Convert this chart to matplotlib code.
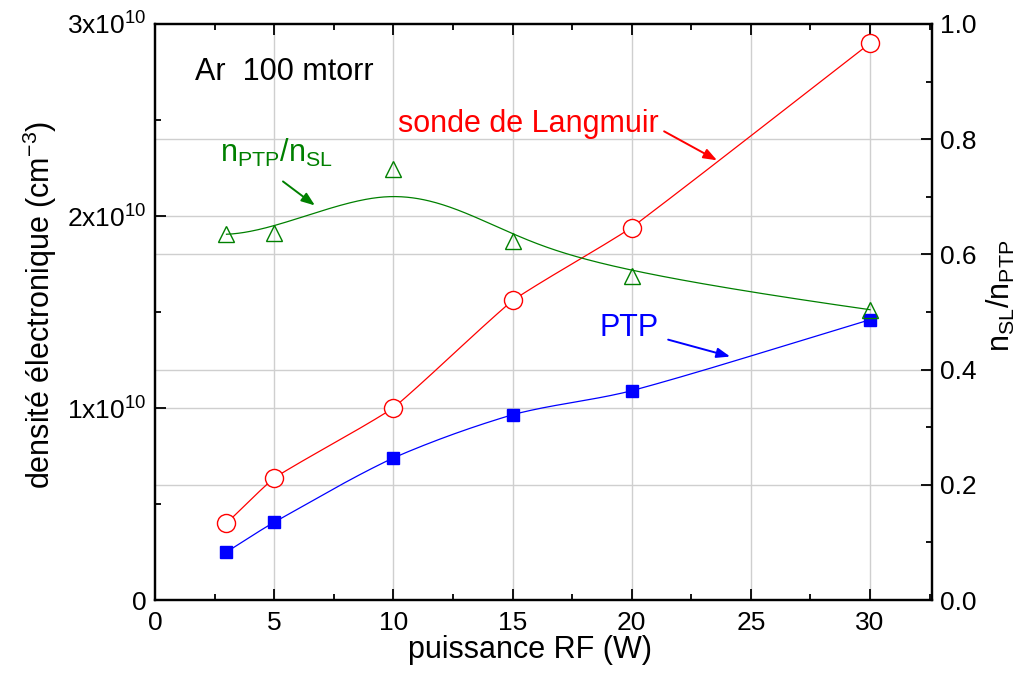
import numpy as np
import matplotlib
matplotlib.use("Agg")
import matplotlib.pyplot as plt
from matplotlib.ticker import MultipleLocator, FixedLocator

plt.rcParams['font.family'] = ['Liberation Sans', 'DejaVu Sans']
plt.rcParams['mathtext.fontset'] = 'custom'
plt.rcParams['mathtext.rm'] = 'Liberation Sans'
plt.rcParams['mathtext.it'] = 'Liberation Sans'

# ---- data ----
power = [3, 5, 10, 15, 20, 30]
n_langmuir = [0.40e10, 0.636e10, 1.00e10, 1.56e10, 1.94e10, 2.90e10]
n_ptp = [0.25e10, 0.405e10, 0.74e10, 0.965e10, 1.09e10, 1.46e10]
ratio = [0.635, 0.638, 0.748, 0.623, 0.563, 0.504]

left_ticks = [0, 1e10, 2e10, 3e10]
left_ticklabels = ['0', r'$\mathregular{1x10^{10}}$', r'$\mathregular{2x10^{10}}$', r'$\mathregular{3x10^{10}}$']
right_ticks = [0.0, 0.2, 0.4, 0.6, 0.8, 1.0]
x_ticks = [0, 5, 10, 15, 20, 25, 30]


def hermite_curve(x, y, blend, num=40):
    """Piecewise Hermite through the points; end tangents of each segment are
    a blend between the segment chord slope and the central-difference slope."""
    x = np.asarray(x, float); y = np.asarray(y, float)
    n = len(x)
    chord = np.diff(y) / np.diff(x)
    cen = np.empty(n)
    cen[0] = chord[0]; cen[-1] = chord[-1]
    for i in range(1, n - 1):
        cen[i] = (y[i + 1] - y[i - 1]) / (x[i + 1] - x[i - 1])
    X = []; Y = []
    for i in range(n - 1):
        h = x[i + 1] - x[i]
        d0 = chord[i] + blend * (cen[i] - chord[i])
        d1 = chord[i] + blend * (cen[i + 1] - chord[i])
        t = np.linspace(0, 1, num)
        h00 = 2 * t**3 - 3 * t**2 + 1
        h10 = t**3 - 2 * t**2 + t
        h01 = -2 * t**3 + 3 * t**2
        h11 = t**3 - t**2
        X.append(x[i] + t * h)
        Y.append(h00 * y[i] + h10 * h * d0 + h01 * y[i + 1] + h11 * h * d1)
    return np.concatenate(X), np.concatenate(Y)


def bspline(cx, cy, k=3, num=300):
    cx = np.asarray(cx, float); cy = np.asarray(cy, float)
    n = len(cx)
    inner = np.linspace(0, 1, n - k + 1)[1:-1]
    t = np.concatenate([np.zeros(k + 1), inner, np.ones(k + 1)])
    us = np.linspace(0, 1, num)
    us[-1] = 1 - 1e-12

    def basis(i, p, u):
        if p == 0:
            return 1.0 if t[i] <= u < t[i + 1] else 0.0
        a = 0.0
        if t[i + p] != t[i]:
            a = (u - t[i]) / (t[i + p] - t[i]) * basis(i, p - 1, u)
        b = 0.0
        if t[i + p + 1] != t[i + 1]:
            b = (t[i + p + 1] - u) / (t[i + p + 1] - t[i + 1]) * basis(i + 1, p - 1, u)
        return a + b

    X = []; Y = []
    for u in us:
        N = np.array([basis(i, k, u) for i in range(n)])
        X.append(N @ cx); Y.append(N @ cy)
    return np.array(X), np.array(Y)


fig = plt.figure(figsize=(10.25, 6.76), dpi=100)
ax = fig.add_axes([0.1512, 0.1124, 0.7581, 0.8521])
ax2 = ax.twinx()

YMAX_L = 3e10
YMAX_R = 1.0
XMAX = 32.6

# grid
grid_c = '#cfcfcf'
for xv in x_ticks[1:]:
    ax.axvline(xv, color=grid_c, lw=1.0, zorder=0)
for yv in left_ticks[1:-1]:
    ax.axhline(yv, color=grid_c, lw=1.0, zorder=0)
for rv in right_ticks[1:-1]:
    ax.axhline(rv * YMAX_L / YMAX_R, color=grid_c, lw=1.0, zorder=0)

rx, ry = hermite_curve(power, n_langmuir, 0.3)
ax.plot(rx, ry, color='red', lw=0.9, zorder=2)
ax.plot(power, n_langmuir, 'o', ms=13, mfc='white', mec='red', mew=1.0, zorder=3)
px, py = hermite_curve(power, n_ptp, 0.8)
ax.plot(px, py, color='blue', lw=0.9, zorder=2)
ax.plot(power, n_ptp, 's', ms=9, color='blue', zorder=3)

bx, by = bspline(power, ratio)
ax2.plot(bx, by, color='green', lw=0.9, zorder=2)
ax2.plot(power, ratio, '^', ms=12, mfc='none', mec='green', mew=1.0, zorder=3)

ax.set_xlim(0, XMAX)
ax.set_ylim(0, YMAX_L)
ax2.set_ylim(0, YMAX_R)

ax.xaxis.set_major_locator(FixedLocator(x_ticks))
ax.xaxis.set_minor_locator(MultipleLocator(2.5))
ax.set_yticks(left_ticks)
ax.set_yticklabels(left_ticklabels)
ax.yaxis.set_minor_locator(MultipleLocator(0.5e10))
ax2.set_yticks(right_ticks)
ax2.set_yticklabels([f'{v:.1f}' for v in right_ticks])
ax2.yaxis.set_minor_locator(MultipleLocator(0.1))

TICK_FS = 19
ax.tick_params(axis='x', which='both', direction='in', top=True, bottom=True, labelsize=TICK_FS, width=1.3, pad=8)
ax.tick_params(axis='x', which='major', length=8)
ax.tick_params(axis='x', which='minor', length=4.5)
ax.tick_params(axis='y', which='both', direction='in', left=True, right=False, labelsize=TICK_FS, width=1.3, pad=6)
ax.tick_params(axis='y', which='major', length=8)
ax.tick_params(axis='y', which='minor', length=4.5)
ax2.tick_params(axis='y', which='both', direction='in', right=True, left=False, labelsize=TICK_FS, width=1.3, pad=6)
ax2.tick_params(axis='y', which='major', length=8)
ax2.tick_params(axis='y', which='minor', length=4.5)

for a in (ax, ax2):
    for s in a.spines.values():
        s.set_linewidth(1.6)

LAB_FS = 22
ax.set_xlabel('puissance RF (W)', fontsize=LAB_FS, labelpad=0)
ax.xaxis.label.set_x(0.483)
ax.set_ylabel(r'densité électronique (cm$^{\mathregular{-3}}$)', fontsize=LAB_FS, labelpad=6)
ax.yaxis.label.set_y(0.512)
ax2.set_ylabel(r'$\mathregular{n_{SL}/n_{PTP}}$', fontsize=LAB_FS, labelpad=6)
ax2.yaxis.label.set_y(0.528)

# annotations
ax.text(1.68, 2.71e10, 'Ar  100 mtorr', fontsize=LAB_FS, va='baseline')
ax.text(10.2, 2.436e10, 'sonde de Langmuir', fontsize=LAB_FS, color='red', va='baseline')
ax.text(2.73, 2.28e10, r'$\mathregular{n_{PTP}/n_{SL}}$', fontsize=LAB_FS, color='green', va='baseline')
ax.text(18.67, 1.377e10, 'PTP', fontsize=LAB_FS, color='blue', va='baseline')

arrow_kw = dict(arrowstyle='-|>,head_length=0.8,head_width=0.3', lw=1.4, shrinkA=0, shrinkB=0)
ax.annotate('', xy=(23.58, 2.29e10), xytext=(21.36, 2.441e10), arrowprops=dict(color='red', **arrow_kw))
ax.annotate('', xy=(6.71, 2.055e10), xytext=(5.37, 2.18e10), arrowprops=dict(color='green', **arrow_kw))
ax.annotate('', xy=(24.13, 1.268e10), xytext=(21.53, 1.356e10), arrowprops=dict(color='blue', **arrow_kw))

fig.savefig('out.png', dpi=100)
